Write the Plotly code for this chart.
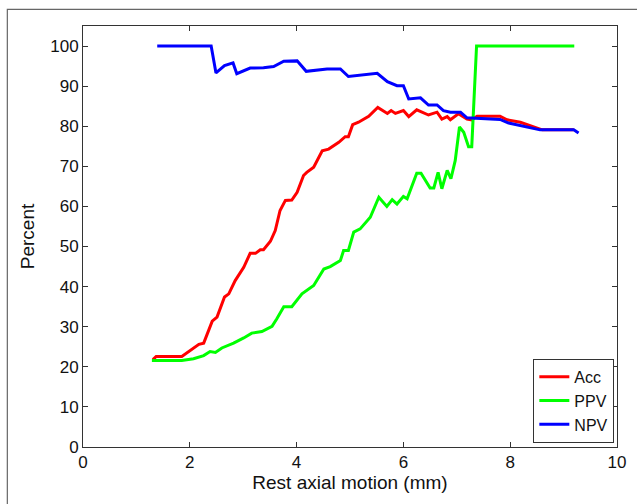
import plotly.graph_objects as go

acc_x = [1.31, 1.37, 1.85, 2.01, 2.17, 2.26, 2.42, 2.51, 2.65, 2.73, 2.85, 3.01, 3.13, 3.23, 3.32, 3.38,
         3.51, 3.60, 3.69, 3.79, 3.91, 4.01, 4.13, 4.19, 4.32, 4.48, 4.60, 4.79, 4.91, 4.97, 5.05, 5.16,
         5.35, 5.52, 5.70, 5.77, 5.85, 6.00, 6.10, 6.25, 6.47, 6.63, 6.72, 6.82, 6.88, 7.03, 7.19, 7.28,
         7.38, 7.81, 7.94, 8.19, 8.47, 8.60, 9.19]
acc_y = [21.8, 22.6, 22.6, 24.0, 25.6, 25.9, 31.4, 32.4, 37.4, 38.2, 41.5, 44.8, 48.3, 48.3, 49.2, 49.2,
         51.3, 54.0, 59.0, 61.5, 61.6, 63.5, 67.7, 68.5, 69.8, 73.9, 74.3, 76.0, 77.4, 77.4, 80.4, 81.0,
         82.5, 84.7, 83.2, 83.9, 83.2, 83.9, 82.4, 84.1, 82.8, 83.5, 81.8, 82.4, 81.6, 83.1, 81.8, 81.6,
         82.5, 82.5, 81.6, 81.0, 79.8, 79.1, 79.1]

ppv_x = [1.29, 1.85, 2.07, 2.26, 2.38, 2.48, 2.60, 2.82, 3.01, 3.16, 3.35, 3.54, 3.63, 3.76, 3.91, 4.10,
         4.32, 4.51, 4.63, 4.82, 4.88, 4.97, 5.07, 5.19, 5.38, 5.54, 5.69, 5.79, 5.88, 6.00, 6.07, 6.25,
         6.33, 6.50, 6.57, 6.65, 6.72, 6.82, 6.89, 6.97, 7.05, 7.13, 7.22, 7.28, 7.37, 9.20]
ppv_y = [21.6, 21.6, 22.0, 22.8, 23.8, 23.6, 24.7, 25.9, 27.2, 28.4, 28.8, 30.1, 32.0, 35.0, 35.0, 38.2,
         40.3, 44.4, 45.0, 46.5, 49.0, 49.0, 53.6, 54.4, 57.3, 62.3, 60.0, 61.7, 60.6, 62.5, 61.9, 68.3,
         68.3, 64.6, 64.6, 68.5, 64.4, 69.0, 66.9, 71.4, 79.8, 78.5, 74.9, 74.9, 100.0, 100.0]

npv_x = [1.39, 2.40, 2.49, 2.65, 2.81, 2.88, 3.13, 3.38, 3.57, 3.76, 4.01, 4.18, 4.57, 4.82, 4.97, 5.25,
         5.51, 5.70, 5.88, 6.00, 6.10, 6.32, 6.47, 6.63, 6.75, 6.88, 7.07, 7.19, 7.81, 7.97, 8.19, 8.56,
         9.19, 9.28]
npv_y = [100.0, 100.0, 93.3, 95.1, 95.8, 93.1, 94.5, 94.6, 94.9, 96.2, 96.3, 93.7, 94.3, 94.3, 92.4, 92.8,
         93.2, 91.1, 90.1, 90.1, 86.8, 87.1, 85.3, 85.3, 83.9, 83.5, 83.5, 82.1, 81.7, 80.8, 80.2, 79.1,
         79.1, 78.3]

x_ticks = [0, 2, 4, 6, 8, 10]
y_ticks = [0, 10, 20, 30, 40, 50, 60, 70, 80, 90, 100]

FONT = "Liberation Sans, Arial, sans-serif"

fig = go.Figure()
fig.add_trace(go.Scatter(x=acc_x, y=acc_y, mode="lines", name="Acc",
                         line=dict(color="#ff0000", width=3)))
fig.add_trace(go.Scatter(x=ppv_x, y=ppv_y, mode="lines", name="PPV",
                         line=dict(color="#00ff00", width=3)))
fig.add_trace(go.Scatter(x=npv_x, y=npv_y, mode="lines", name="NPV",
                         line=dict(color="#0000ff", width=3)))

axis_common = dict(showgrid=False, zeroline=False, showline=True, linecolor="#333333", linewidth=1,
                   mirror="ticks", ticks="inside", ticklen=5, tickcolor="#333333",
                   tickfont=dict(family=FONT, size=17, color="#111111"))

fig.update_xaxes(range=[0, 10], tickvals=x_ticks, ticktext=[str(v) for v in x_ticks],
                 title=dict(text="Rest axial motion (mm)", font=dict(family=FONT, size=19, color="#111111"),
                            standoff=2),
                 **axis_common)
fig.update_yaxes(range=[0, 105], tickvals=y_ticks, ticktext=[str(v) for v in y_ticks],
                 title=dict(text="Percent", font=dict(family=FONT, size=19, color="#111111"), standoff=10),
                 **axis_common)

fig.update_layout(
    width=637, height=504,
    margin=dict(l=83, r=20, t=26, b=57, autoexpand=False),
    paper_bgcolor="white", plot_bgcolor="white",
    showlegend=True,
    legend=dict(x=0.995, y=0.01, xanchor="right", yanchor="bottom",
                bgcolor="white", bordercolor="#333333", borderwidth=1,
                font=dict(family=FONT, size=16, color="#111111"),
                itemwidth=30, tracegroupgap=0),
    shapes=[dict(type="rect", xref="paper", yref="paper", x0=-0.1417, x1=1.05, y0=-0.16, y1=1.0397,
                 line=dict(color="#666666", width=1.2), fillcolor="rgba(0,0,0,0)", layer="below")],
)

fig.write_html("out.html", config={"displayModeBar": False},
               post_script="document.body.style.margin='0px';")
